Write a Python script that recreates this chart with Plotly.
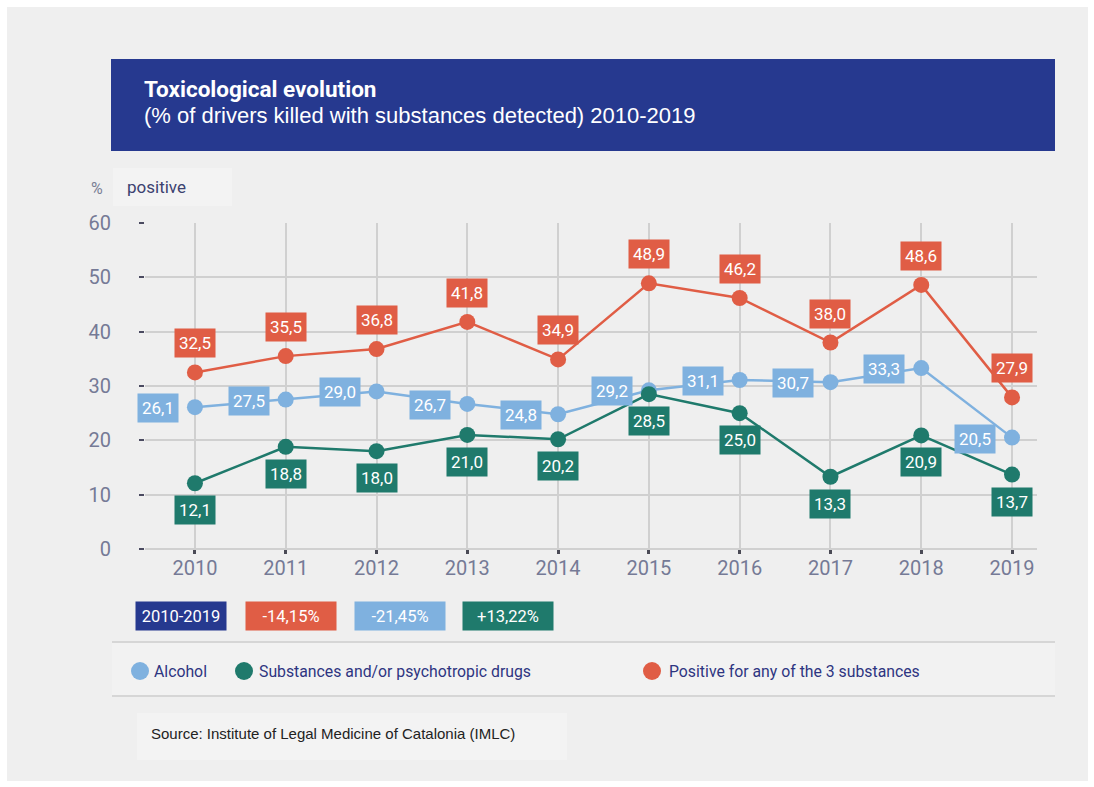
import plotly.graph_objects as go

# Data: share of drivers killed with substances detected (%)
years = [2010, 2011, 2012, 2013, 2014, 2015, 2016, 2017, 2018, 2019]
alcohol = [26.1, 27.5, 29.0, 26.7, 24.8, 29.2, 31.1, 30.7, 33.3, 20.5]
drugs = [12.1, 18.8, 18.0, 21.0, 20.2, 28.5, 25.0, 13.3, 20.9, 13.7]
any_substance = [32.5, 35.5, 36.8, 41.8, 34.9, 48.9, 46.2, 38.0, 48.6, 27.9]

period_label = "2010-2019"
period_changes = ["-14,15%", "-21,45%", "+13,22%"]
series_names = ["Alcohol", "Substances and/or psychotropic drugs",
                "Positive for any of the 3 substances"]

C_ANY = "#e05d45"
C_ALC = "#7fb1df"
C_DRUG = "#1f7a6c"
C_NAVY = "#26398f"
BG = "#efefef"

W, H = 1094, 787
L, R, T, B = 145, 1037, 223, 549  # plot area in pixels


def px(x):
    return (x - L) / (R - L)


def py(y):
    return (B - y) / (B - T)


def fmt(v):
    return f"{v:.1f}".replace(".", ",")


fig = go.Figure()

for vals, color in [(any_substance, C_ANY), (alcohol, C_ALC), (drugs, C_DRUG)]:
    fig.add_trace(go.Scatter(
        x=years, y=vals, mode="lines+markers",
        line=dict(color=color, width=2.5),
        marker=dict(color=color, size=16),
        cliponaxis=False, showlegend=False, hoverinfo="skip",
    ))

annotations = []
# value labels
for yr, v in zip(years, any_substance):
    annotations.append(dict(x=yr, y=v, xref="x", yref="y", text=fmt(v), showarrow=False,
                            yshift=29, bgcolor=C_ANY, borderpad=4,
                            font=dict(family="Roboto", size=17, color="white")))
for yr, v in zip(years, alcohol):
    annotations.append(dict(x=yr, y=v, xref="x", yref="y", text=fmt(v), showarrow=False,
                            xshift=-37, yshift=-1, bgcolor=C_ALC, borderpad=4,
                            font=dict(family="Roboto", size=17, color="white")))
for yr, v in zip(years, drugs):
    annotations.append(dict(x=yr, y=v, xref="x", yref="y", text=fmt(v), showarrow=False,
                            yshift=-27, bgcolor=C_DRUG, borderpad=4,
                            font=dict(family="Roboto", size=17, color="white")))

# title banner text
annotations.append(dict(x=px(142), y=py(89), xref="paper", yref="paper", xanchor="left",
                        yanchor="middle", showarrow=False,
                        text="<b>Toxicological evolution</b>",
                        font=dict(family="Roboto", size=22.5, color="white")))
annotations.append(dict(x=px(142), y=py(116), xref="paper", yref="paper", xanchor="left",
                        yanchor="middle", showarrow=False,
                        text="(% of drivers killed with substances detected) 2010-2019",
                        font=dict(family="Liberation Sans", size=22, color="white")))

# axis header
annotations.append(dict(x=px(89), y=py(188), xref="paper", yref="paper", xanchor="left",
                        yanchor="middle", showarrow=False, text="%",
                        font=dict(family="Roboto", size=16, color="#7a7f95")))
annotations.append(dict(x=px(125), y=py(187), xref="paper", yref="paper", xanchor="left",
                        yanchor="middle", showarrow=False, text="positive",
                        font=dict(family="Roboto", size=17, color="#3b4170")))

# period change boxes
boxes = [(period_label, C_NAVY, 136, 226)] + list(zip(period_changes, [C_ANY, C_ALC, C_DRUG],
                                                       [246, 355, 463], [336, 445, 553]))
for text, color, x0, x1 in boxes:
    annotations.append(dict(x=px((x0 + x1) / 2), y=py(616), xref="paper", yref="paper",
                            xanchor="center", yanchor="middle", showarrow=False, text=text,
                            width=x1 - x0, height=28, bgcolor=color, borderpad=0,
                            font=dict(family="Roboto", size=16.5, color="white")))

# legend entries
legend_pos = [(140, 152, C_ALC), (244, 257, C_DRUG), (652, 667, C_ANY)]
shapes = []
for name, (cx, tx, color) in zip(series_names, legend_pos):
    shapes.append(dict(type="circle", xref="paper", yref="paper", xsizemode="pixel",
                       ysizemode="pixel", xanchor=px(cx), yanchor=py(671),
                       x0=-9, x1=9, y0=-9, y1=9, fillcolor=color, line=dict(width=0)))
    annotations.append(dict(x=px(tx), y=py(671), xref="paper", yref="paper", xanchor="left",
                            yanchor="middle", showarrow=False, text=name,
                            font=dict(family="Roboto", size=15.8, color="#2e3581")))

annotations.append(dict(x=px(149), y=py(733), xref="paper", yref="paper", xanchor="left",
                        yanchor="middle", showarrow=False,
                        text="Source: Institute of Legal Medicine of Catalonia (IMLC)",
                        font=dict(family="Liberation Sans", size=15, color="#222222")))


def rect(x0, y0, x1, y1, fill, layer="below"):
    return dict(type="rect", xref="paper", yref="paper", x0=px(x0), x1=px(x1),
                y0=py(y1), y1=py(y0), fillcolor=fill, line=dict(width=0), layer=layer)


shapes = [
    rect(7, 7, 1088, 781, BG),
    rect(111, 59, 1055, 151, C_NAVY),
    rect(113, 168, 232, 206, "#f3f3f3"),
    rect(112, 643, 1055, 696, "#f2f2f2"),
    rect(137, 713, 567, 760, "#f3f3f3"),
    dict(type="line", xref="paper", yref="paper", x0=px(112), x1=px(1055), y0=py(642),
         y1=py(642), line=dict(color="#d6d6d6", width=2), layer="below"),
    dict(type="line", xref="paper", yref="paper", x0=px(112), x1=px(1055), y0=py(696),
         y1=py(696), line=dict(color="#d6d6d6", width=2), layer="below"),
] + shapes

fig.update_layout(
    width=W, height=H,
    margin=dict(l=L, r=W - R, t=T, b=H - B, pad=0),
    paper_bgcolor="white", plot_bgcolor="rgba(0,0,0,0)",
    xaxis=dict(range=[2009.45, 2019.275], tickmode="array", tickvals=years,
               ticktext=[str(y) for y in years], showgrid=True, gridcolor="#d0d0d0",
               gridwidth=1.5, zeroline=False, showline=False, ticks="outside", ticklen=4,
               tickwidth=3, tickcolor="#4a4a55", ticklabelstandoff=-3,
               tickfont=dict(family="Roboto", size=20, color="#757a96")),
    yaxis=dict(range=[0, 60], tickvals=[0, 10, 20, 30, 40, 50, 60], showgrid=True,
               gridcolor="#d0d0d0", gridwidth=1.5, zeroline=True, zerolinecolor="#d0d0d0",
               zerolinewidth=1.5, showline=False, ticks="outside", ticklen=5, tickwidth=2,
               tickcolor="#4a4a60", ticklabelstandoff=24,
               tickfont=dict(family="Roboto", size=20, color="#757a96")),
    annotations=annotations, shapes=shapes,
)

fig.write_html("out.html")
